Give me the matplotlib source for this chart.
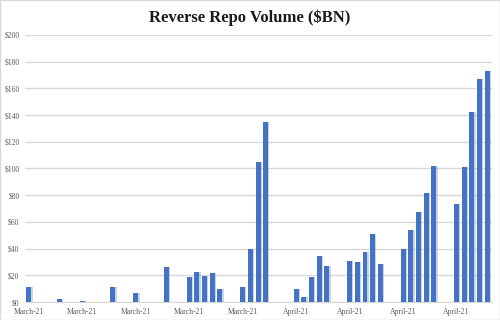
import matplotlib
matplotlib.use("Agg")
import matplotlib.pyplot as plt
import matplotlib.dates as mdates
import numpy as np
import pandas as pd

# business days, Mar 1 - Apr 30 2021
dates = pd.bdate_range("2021-03-01", "2021-04-30")
volume = [11.0, 0, 0, 0, 2.2,
          0.5, 0, 0, 0, 11.0,
          6.5, 0, 0.4, 0, 26.5,
          18.5, 22.2, 19.5, 21.5, 9.7,
          11.0, 40.0, 104.5, 134.5, 0,
          9.7, 3.7, 18.7, 34.7, 27.0,
          31.0, 30.0, 37.5, 50.7, 28.5,
          39.7, 54.0, 67.4, 81.4, 102.0,
          73.5, 101.0, 142.0, 167.0, 173.0]
yticks = np.arange(0, 201, 20)

plt.rcParams['font.family'] = ['Liberation Serif', 'DejaVu Serif']

fig = plt.figure(figsize=(5, 3.2), dpi=100)
ax = fig.add_axes([0.05, 0.056, 0.934, 0.835])

# soft shadow then bars
ax.bar(dates + pd.Timedelta(hours=4), volume, width=0.65, color="#8f9fc0", alpha=0.45, zorder=2)
ax.bar(dates, volume, width=0.65, color="#4472C4", zorder=3)

ax.set_ylim(0, 200)
ax.set_yticks(yticks)
ax.set_yticklabels(["$%d" % v for v in yticks])
ax.set_xlim(pd.Timestamp("2021-02-28 12:00"), pd.Timestamp("2021-04-30 15:00"))
ax.xaxis.set_major_locator(mdates.WeekdayLocator(byweekday=mdates.MO))
ax.xaxis.set_major_formatter(mdates.DateFormatter("%B-%y"))

ax.grid(axis="y", color="#d9d9d9", linewidth=1, zorder=0)
for s in ["top", "right", "left"]:
    ax.spines[s].set_visible(False)
ax.spines["bottom"].set_color("#d9d9d9")
ax.tick_params(length=0, labelsize=5.5, labelcolor="#595959")
ax.tick_params(axis="x", pad=4)
ax.tick_params(axis="y", pad=4)

fig.text(0.5, 0.945, "Reverse Repo Volume ($BN)", ha="center", va="center",
         fontsize=12, fontweight="bold", color="#1a1a1a")

fig.patches.append(plt.Rectangle((0, 0), 1, 1, transform=fig.transFigure,
                                 fill=False, edgecolor="#d9d9d9", linewidth=1))

fig.savefig("out.png", dpi=100)
